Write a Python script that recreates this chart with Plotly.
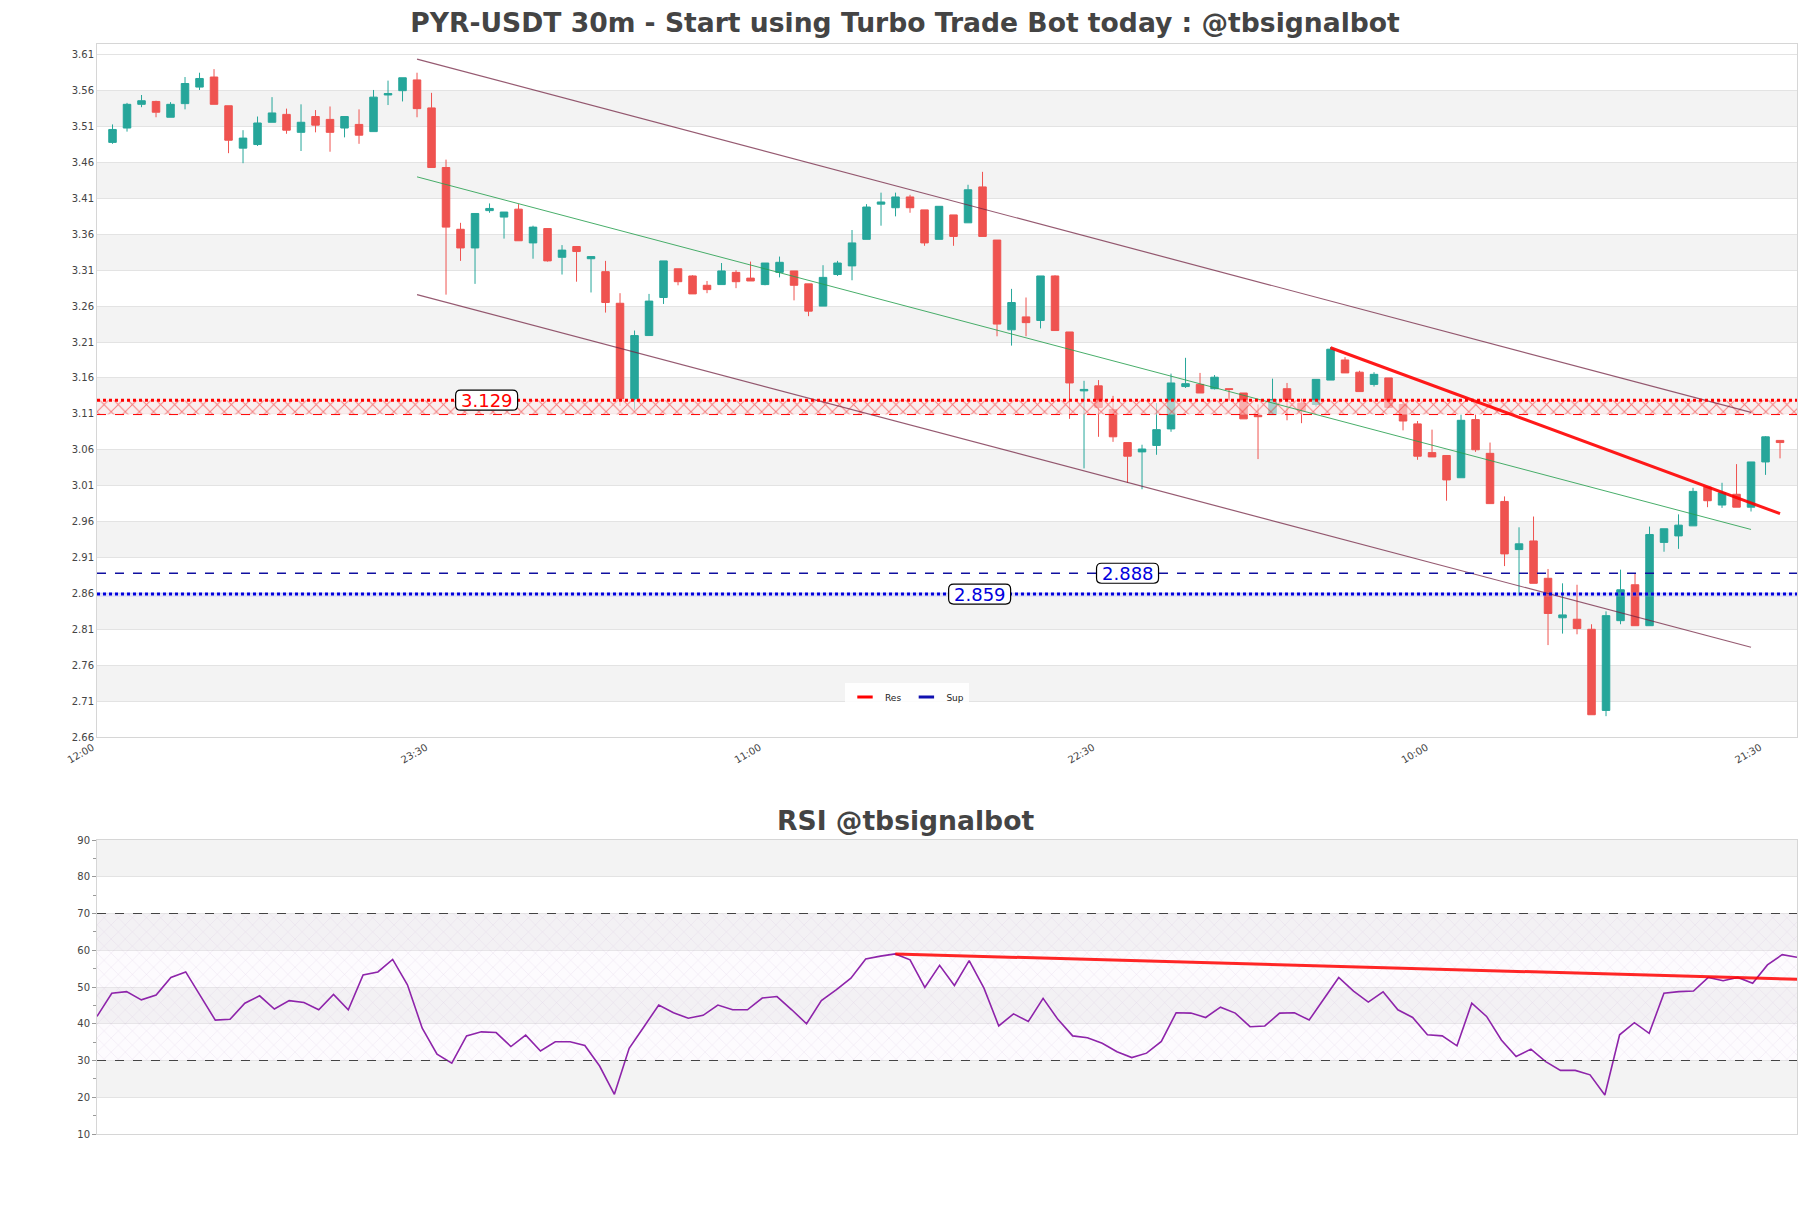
import pandas as pd
import plotly.graph_objects as go

# ---------------- data ----------------
start_time = pd.Timestamp("2024-01-01 12:00")
bar_minutes = 30

opens = [3.488, 3.508, 3.541, 3.545, 3.523, 3.542, 3.565, 3.579, 3.539, 3.480,
         3.485, 3.516, 3.527, 3.502, 3.524, 3.520, 3.508, 3.513, 3.503, 3.554,
         3.560, 3.575, 3.536, 3.453, 3.367, 3.341, 3.393, 3.384, 3.395, 3.348,
         3.368, 3.328, 3.343, 3.326, 3.308, 3.264, 3.131, 3.219, 3.272, 3.312,
         3.302, 3.289, 3.290, 3.307, 3.299, 3.290, 3.307, 3.309, 3.291, 3.260,
         3.304, 3.316, 3.353, 3.402, 3.397, 3.412, 3.394, 3.353, 3.387, 3.376,
         3.426, 3.352, 3.227, 3.245, 3.240, 3.302, 3.224, 3.142, 3.149, 3.116,
         3.070, 3.057, 3.066, 3.089, 3.148, 3.151, 3.145, 3.145, 3.139, 3.108,
         3.109, 3.145, 3.125, 3.123, 3.157, 3.185, 3.168, 3.151, 3.160, 3.123,
         3.096, 3.056, 3.052, 3.021, 3.102, 3.055, 2.988, 2.921, 2.933, 2.881,
         2.826, 2.824, 2.810, 2.697, 2.822, 2.872, 2.815, 2.931, 2.940, 2.954,
         3.008, 2.983, 2.998, 2.980, 3.043, 3.073]
highs = [3.513, 3.543, 3.554, 3.546, 3.544, 3.579, 3.585, 3.590, 3.539, 3.505,
         3.524, 3.551, 3.535, 3.541, 3.533, 3.538, 3.524, 3.534, 3.561, 3.574,
         3.578, 3.585, 3.557, 3.464, 3.376, 3.389, 3.403, 3.391, 3.402, 3.372,
         3.368, 3.345, 3.343, 3.329, 3.323, 3.278, 3.226, 3.277, 3.323, 3.312,
         3.303, 3.295, 3.320, 3.310, 3.322, 3.320, 3.329, 3.309, 3.291, 3.317,
         3.323, 3.366, 3.402, 3.418, 3.418, 3.415, 3.394, 3.399, 3.387, 3.429,
         3.447, 3.352, 3.284, 3.272, 3.302, 3.303, 3.224, 3.156, 3.157, 3.135,
         3.070, 3.067, 3.125, 3.166, 3.188, 3.167, 3.164, 3.145, 3.139, 3.123,
         3.159, 3.153, 3.131, 3.158, 3.203, 3.189, 3.170, 3.168, 3.160, 3.129,
         3.100, 3.088, 3.052, 3.109, 3.109, 3.070, 2.995, 2.952, 2.967, 2.894,
         2.874, 2.872, 2.817, 2.835, 2.893, 2.888, 2.953, 2.950, 2.970, 3.007,
         3.008, 3.014, 3.040, 3.043, 3.079, 3.073]
lows = [3.486, 3.503, 3.537, 3.523, 3.523, 3.534, 3.561, 3.541, 3.473, 3.459,
        3.483, 3.516, 3.500, 3.476, 3.502, 3.475, 3.495, 3.486, 3.503, 3.540,
        3.545, 3.523, 3.453, 3.276, 3.323, 3.291, 3.390, 3.354, 3.351, 3.326,
        3.322, 3.304, 3.294, 3.279, 3.251, 3.121, 3.116, 3.219, 3.263, 3.289,
        3.277, 3.278, 3.290, 3.285, 3.295, 3.289, 3.300, 3.268, 3.246, 3.260,
        3.302, 3.296, 3.353, 3.372, 3.385, 3.390, 3.344, 3.353, 3.344, 3.376,
        3.357, 3.218, 3.205, 3.218, 3.229, 3.226, 3.103, 3.034, 3.078, 3.071,
        3.014, 3.005, 3.053, 3.085, 3.146, 3.139, 3.144, 3.128, 3.103, 3.047,
        3.109, 3.101, 3.097, 3.120, 3.157, 3.167, 3.141, 3.148, 3.119, 3.087,
        3.046, 3.050, 2.989, 3.021, 3.057, 2.985, 2.898, 2.857, 2.874, 2.788,
        2.804, 2.803, 2.691, 2.689, 2.817, 2.815, 2.815, 2.918, 2.922, 2.954,
        2.980, 2.979, 2.980, 2.974, 3.025, 3.048]
closes = [3.506, 3.541, 3.546, 3.530, 3.541, 3.570, 3.577, 3.541, 3.491, 3.494,
          3.515, 3.529, 3.505, 3.516, 3.512, 3.502, 3.524, 3.498, 3.551, 3.556,
          3.578, 3.535, 3.453, 3.370, 3.341, 3.389, 3.396, 3.391, 3.351, 3.370,
          3.323, 3.338, 3.336, 3.329, 3.265, 3.131, 3.219, 3.267, 3.323, 3.294,
          3.277, 3.283, 3.309, 3.294, 3.295, 3.320, 3.321, 3.289, 3.253, 3.300,
          3.320, 3.348, 3.398, 3.405, 3.412, 3.397, 3.348, 3.399, 3.357, 3.422,
          3.357, 3.235, 3.265, 3.237, 3.302, 3.226, 3.153, 3.144, 3.119, 3.078,
          3.051, 3.061, 3.088, 3.153, 3.152, 3.139, 3.161, 3.144, 3.103, 3.106,
          3.130, 3.130, 3.114, 3.158, 3.200, 3.167, 3.141, 3.165, 3.119, 3.100,
          3.051, 3.050, 3.018, 3.101, 3.060, 2.985, 2.915, 2.929, 2.874, 2.832,
          2.830, 2.811, 2.691, 2.829, 2.865, 2.815, 2.942, 2.950, 2.955, 3.002,
          2.989, 3.000, 2.980, 3.043, 3.078, 3.070]
rsi = [42.0, 48.3, 48.75, 46.5, 47.8, 52.6, 54.1, 47.6, 41.0, 41.2,
       45.6, 47.6, 44.0, 46.3, 45.8, 43.8, 48.0, 43.8, 53.3, 54.1,
       57.5, 50.6, 38.8, 31.7, 29.3, 36.7, 37.8, 37.6, 33.8, 36.9,
       32.6, 35.1, 35.1, 34.1, 28.5, 20.8, 33.3, 39.2, 45.1, 43.0,
       41.5, 42.3, 45.1, 43.8, 43.8, 47.0, 47.4, 43.8, 40.0, 46.3,
       49.2, 52.4, 57.6, 58.4, 59.0, 57.4, 49.9, 55.9, 50.4, 57.2,
       49.7, 39.4, 42.7, 40.6, 46.9, 41.2, 36.7, 36.2, 34.7, 32.4,
       30.8, 32.0, 35.2, 43.0, 42.9, 41.7, 44.5, 42.9, 39.2, 39.4,
       42.9, 43.0, 41.0, 46.8, 52.6, 48.9, 45.9, 48.7, 43.8, 41.7,
       37.0, 36.7, 34.0, 45.6, 42.0, 35.6, 31.1, 33.1, 29.7, 27.3,
       27.3, 26.1, 20.6, 37.0, 40.3, 37.4, 48.3, 48.75, 48.9, 52.6,
       51.7, 52.6, 51.0, 56.0, 58.8, 58.1]

tick_bars = [0, 23, 46, 69, 92, 115]
tick_labels = ["12:00", "23:30", "11:00", "22:30", "10:00", "21:30"]

# trend channel (bar index, price)
channel_bars = [21, 113]
channel_upper = [3.604, 3.112]
channel_mid = [3.440, 2.949]
channel_lower = [3.276, 2.785]
trend_bars = [84, 115]
trend_prices = [3.202, 2.971]

# RSI trend line
rsi_trend_bars = [54, 115]
rsi_trend_vals = [59.0, 52.1]

# levels
res_level = 3.129
res_zone = [3.109, 3.129]
sup_levels = [2.888, 2.859]
sup_zone = [2.855, 2.862]
rsi_upper, rsi_lower = 70, 30

title_main = "PYR-USDT 30m - Start using Turbo Trade Bot today : @tbsignalbot"
title_rsi = "RSI @tbsignalbot"

# ---------------- figure ----------------
step = pd.Timedelta(minutes=bar_minutes)
times = [start_time + i * step for i in range(len(opens))]
def t(i):
    return start_time + i * step

x_main_range = [t(-1.07), t(116.17)]
x_rsi_range = [times[0], times[-1]]

FONT = "DejaVu Sans"
W, H = 1803, 1200          # page has an 8px body margin
OFF = 8
mt, mb, ml, mr = 36, 74, 89, 14
ph = H - mt - mb
pw = W - ml - mr
main_dom = [(1134 - 737) / ph, 1.0]
rsi_dom = [0.0, (1134 - 840) / ph]

fig = go.Figure()

fig.add_trace(go.Candlestick(
    x=times, open=opens, high=highs, low=lows, close=closes,
    increasing=dict(line=dict(color="#26a69a", width=1), fillcolor="#26a69a"),
    decreasing=dict(line=dict(color="#ef5350", width=1), fillcolor="#ef5350"),
    showlegend=False, xaxis="x", yaxis="y", hoverinfo="skip"))

# resistance hatched zone
fig.add_trace(go.Scatter(
    x=[x_main_range[0], x_main_range[1], x_main_range[1], x_main_range[0], x_main_range[0]],
    y=[res_zone[0], res_zone[0], res_zone[1], res_zone[1], res_zone[0]],
    mode="lines", line=dict(width=0), fill="toself",
    fillcolor="rgba(255,235,235,0.6)",
    fillpattern=dict(shape="x", fgcolor="rgba(240,0,0,0.95)", bgcolor="rgba(255,235,235,0.6)",
                     size=10, solidity=0.18),
    showlegend=False, hoverinfo="skip", xaxis="x", yaxis="y"))
fig.add_trace(go.Scatter(
    x=[x_main_range[0], x_main_range[1], x_main_range[1], x_main_range[0], x_main_range[0]],
    y=[sup_zone[0], sup_zone[0], sup_zone[1], sup_zone[1], sup_zone[0]],
    mode="lines", line=dict(width=0), fill="toself",
    fillcolor="rgba(150,150,255,0.18)",
    showlegend=False, hoverinfo="skip", xaxis="x", yaxis="y"))

# channel
fig.add_trace(go.Scatter(x=[t(i) for i in channel_bars], y=channel_upper, mode="lines",
                         line=dict(color="rgba(115,35,65,0.75)", width=1.2),
                         showlegend=False, hoverinfo="skip"))
fig.add_trace(go.Scatter(x=[t(i) for i in channel_bars], y=channel_lower, mode="lines",
                         line=dict(color="rgba(115,35,65,0.75)", width=1.2),
                         showlegend=False, hoverinfo="skip"))
fig.add_trace(go.Scatter(x=[t(i) for i in channel_bars], y=channel_mid, mode="lines",
                         line=dict(color="rgba(40,160,80,0.85)", width=1),
                         showlegend=False, hoverinfo="skip"))
fig.add_trace(go.Scatter(x=[t(i) for i in trend_bars], y=trend_prices, mode="lines",
                         line=dict(color="rgba(255,0,0,0.9)", width=3),
                         showlegend=False, hoverinfo="skip"))

# legend entries
fig.add_trace(go.Scatter(x=[None], y=[None], mode="markers", name="Res",
                         marker=dict(symbol="line-ew-open", size=11, color="red",
                                     line=dict(color="red", width=3))))
fig.add_trace(go.Scatter(x=[None], y=[None], mode="markers", name="Sup",
                         marker=dict(symbol="line-ew-open", size=11, color="#1010b0",
                                     line=dict(color="#1010b0", width=3))))

# RSI hatched zone
fig.add_trace(go.Scatter(
    x=[x_rsi_range[0], x_rsi_range[1], x_rsi_range[1], x_rsi_range[0], x_rsi_range[0]],
    y=[rsi_lower, rsi_lower, rsi_upper, rsi_upper, rsi_lower],
    mode="lines", line=dict(width=0), fill="toself",
    fillcolor="rgba(240,225,245,0.15)",
    fillpattern=dict(shape="x", fgcolor="rgba(165,125,185,0.55)", bgcolor="rgba(245,235,250,0.2)",
                     size=10, solidity=0.07),
    showlegend=False, hoverinfo="skip", xaxis="x2", yaxis="y2"))

fig.add_trace(go.Scatter(x=times, y=rsi, mode="lines",
                         line=dict(color="#8e24aa", width=1.6),
                         showlegend=False, hoverinfo="skip", xaxis="x2", yaxis="y2"))
fig.add_trace(go.Scatter(x=[t(i) for i in rsi_trend_bars], y=rsi_trend_vals, mode="lines",
                         line=dict(color="rgba(255,0,0,0.85)", width=3),
                         showlegend=False, hoverinfo="skip", xaxis="x2", yaxis="y2"))

shapes = []
# grey bands main
for lo in [2.71, 2.81, 2.91, 3.01, 3.11, 3.21, 3.31, 3.41, 3.51]:
    shapes.append(dict(type="rect", xref="x domain", yref="y", x0=0, x1=1, y0=lo, y1=lo + 0.05,
                       fillcolor="#f3f3f3", line=dict(width=0), layer="below"))
for lo in [20, 40, 60, 80]:
    shapes.append(dict(type="rect", xref="x2 domain", yref="y2", x0=0, x1=1, y0=lo, y1=lo + 10,
                       fillcolor="#f3f3f3", line=dict(width=0), layer="below"))
# level lines
shapes.append(dict(type="line", xref="x domain", yref="y", x0=0, x1=1, y0=res_level, y1=res_level,
                   line=dict(color="red", width=3, dash="dot")))
shapes.append(dict(type="line", xref="x domain", yref="y", x0=0, x1=1, y0=res_zone[0], y1=res_zone[0],
                   line=dict(color="red", width=1, dash="dash")))
shapes.append(dict(type="line", xref="x domain", yref="y", x0=0, x1=1, y0=sup_levels[0], y1=sup_levels[0],
                   line=dict(color="#1010a0", width=1.3, dash="dash")))
shapes.append(dict(type="line", xref="x domain", yref="y", x0=0, x1=1, y0=sup_levels[1], y1=sup_levels[1],
                   line=dict(color="#0000dd", width=3, dash="dot")))
for lv in [rsi_upper, rsi_lower]:
    shapes.append(dict(type="line", xref="x2 domain", yref="y2", x0=0, x1=1, y0=lv, y1=lv,
                       line=dict(color="#444", width=1.2, dash="dash")))

# rounded label boxes (pixel-sized around the level label position)
def rounded_box(xpos, ypos, hw=31, hh=10, r=5):
    path = (f"M {-hw + r},{-hh} L {hw - r},{-hh} Q {hw},{-hh} {hw},{-hh + r} "
            f"L {hw},{hh - r} Q {hw},{hh} {hw - r},{hh} L {-hw + r},{hh} "
            f"Q {-hw},{hh} {-hw},{hh - r} L {-hw},{-hh + r} Q {-hw},{-hh} {-hw + r},{-hh} Z")
    return dict(type="path", xref="x", yref="y", xsizemode="pixel", ysizemode="pixel",
                xanchor=xpos, yanchor=ypos, path=path, fillcolor="white",
                line=dict(color="black", width=1.2), layer="above")

label_specs = [(res_level, 25.8, "red"), (sup_levels[0], 70.0, "#0000dd"), (sup_levels[1], 59.8, "#0000dd")]
annotations = [
    dict(text=title_rsi, xref="paper", yref="paper", x=(905 - 97) / pw,
         y=(1134 - 820) / ph, showarrow=False, xanchor="center", yanchor="middle",
         font=dict(family=FONT, size=26.6, color="#444", weight="bold")),
]
for lv, xb, col in label_specs:
    shapes.append(rounded_box(t(xb), lv))
    annotations.append(dict(text=f"{lv:.3f}", x=t(xb), y=lv, xref="x", yref="y", showarrow=False,
                            xanchor="center", yanchor="middle",
                            font=dict(family=FONT, size=18, color=col)))

axis_line = "#d6d6d6"
grid = "#e3e3e3"
tickfont = dict(family=FONT, size=10, color="#444")

fig.update_layout(
    width=W, height=H,
    margin=dict(l=ml, r=mr, t=mt, b=mb),
    paper_bgcolor="white", plot_bgcolor="white",
    font=dict(family=FONT),
    title=dict(text=title_main, x=(905 - OFF) / W, xref="container", xanchor="center",
               y=1 - (23 - OFF) / H, yref="container", yanchor="middle",
               font=dict(family=FONT, size=26.6, color="#444", weight="bold")),
    boxgap=0.26,
    xaxis=dict(domain=[0, 1], anchor="y", type="date", range=x_main_range,
               rangeslider=dict(visible=False),
               tickvals=[t(i) for i in tick_bars], ticktext=tick_labels, tickangle=-30,
               ticklabelshift=-20,
               tickfont=tickfont, showgrid=False, showline=True, linecolor=axis_line,
               mirror=True, ticks="", zeroline=False),
    yaxis=dict(domain=main_dom, anchor="x", range=[2.66, 3.625], tick0=2.66, dtick=0.05,
               tickformat=".2f", tickfont=tickfont, showgrid=True, gridcolor=grid,
               showline=True, linecolor=axis_line, mirror=True, zeroline=False, ticks=""),
    xaxis2=dict(domain=[0, 1], anchor="y2", type="date", range=x_rsi_range,
                showticklabels=False, showgrid=False, showline=True, linecolor=axis_line,
                mirror=True, ticks="", zeroline=False),
    yaxis2=dict(domain=rsi_dom, anchor="x2", range=[10, 90], tick0=10, dtick=10,
                tickfont=tickfont, showgrid=True, gridcolor=grid, showline=True,
                linecolor=axis_line, mirror=True, zeroline=False,
                ticks="outside", ticklen=4, tickcolor="#999",
                minor=dict(dtick=5, ticks="outside", ticklen=3, tickcolor="#999", showgrid=False)),
    legend=dict(orientation="h", x=(907 - 97) / pw, y=(1134 - 697) / ph,
                xanchor="center", yanchor="middle", bgcolor="rgba(255,255,255,0.85)",
                itemwidth=30, font=dict(family=FONT, size=9, color="#222")),
    shapes=shapes, annotations=annotations,
)

fig.write_html("out.html")
